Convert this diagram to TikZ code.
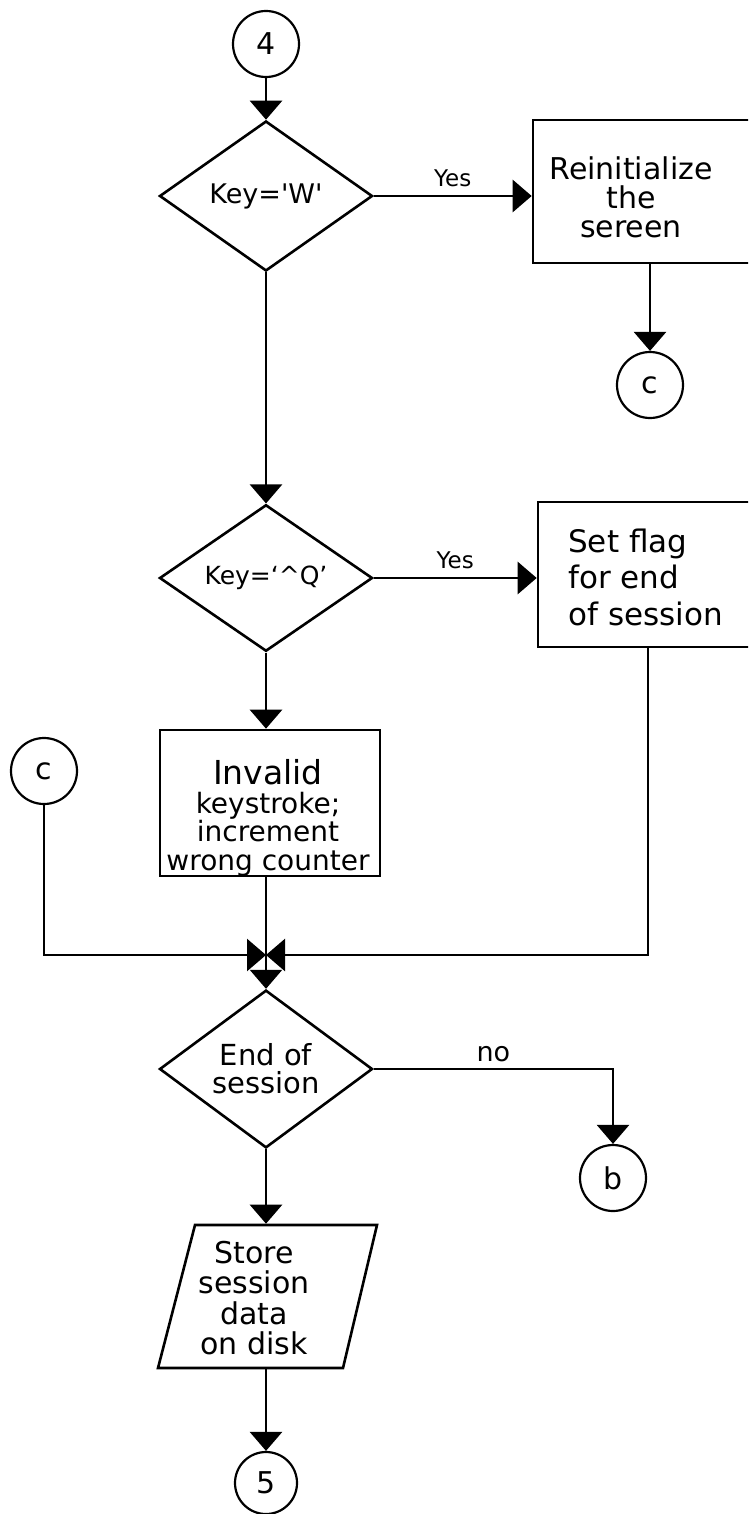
\documentclass[tikz,border=0pt]{standalone}
\usepackage{fontspec}
\setmainfont{DejaVu Sans}
\usetikzlibrary{shapes.geometric,arrows.meta}
\begin{document}
\begin{tikzpicture}[x=1pt,y=-1pt,
  line width=2.6pt,
  flow/.style={-{Triangle[width=32pt,length=19pt]}},
  conn/.style={draw,circle,minimum size=66pt,inner sep=0pt,line width=2.2pt,font=\fontsize{30}{30}\selectfont},
  dec/.style={draw,diamond,inner sep=0pt,minimum width=213pt,minimum height=150pt,align=center},
  procbox/.style={draw,rectangle,inner sep=0pt},
  txt/.style={align=center,inner sep=0pt},
  lbl/.style={inner sep=0pt,font=\fontsize{23}{24}\selectfont}
]
\useasboundingbox (0,0) rectangle (748,1514);
\clip (0,0) rectangle (748,1514);
% shapes
\node[conn] (c4) at (266,44) {4};
\node[dec,font=\fontsize{27}{30}\selectfont] (d1) at (266,196) {Key=\textquotesingle W\textquotesingle};
\node[procbox,minimum width=240pt,minimum height=143pt] (b1) at (653,191.5) {};
\node[txt,font=\fontsize{30}{29}\selectfont] (t1) at (631,197) {Reinitialize\\the\\sereen};
\node[conn] (cR) at (650,385) {c};
\node[dec,minimum height=143pt,font=\fontsize{25}{28}\selectfont] (d2) at (266,578) {Key=‘\textasciicircum Q’};
\node[procbox,minimum width=240pt,minimum height=145pt] (b2) at (658,574.5) {};
\node[txt,align=left,anchor=west,font=\fontsize{31}{36.5}\selectfont] (t2) at (567,577) {Set flag\\for end\\of session};
\node[procbox,minimum width=220pt,minimum height=146pt] (b3) at (270,803) {};
\node[txt,font=\fontsize{28}{28.5}\selectfont] (t3) at (268,818) {{\fontsize{33}{29}\selectfont Invalid}\\keystroke;\\increment\\wrong counter};
\node[conn] (cL) at (44,771) {c};
\coordinate (m) at (266,955);
\coordinate (j1) at (44,955);
\coordinate (j2) at (648,955);
\node[dec,minimum height=142pt,font=\fontsize{29}{28}\selectfont] (d3) at (266,1069) {End of\\session};
\node[conn] (cb) at (613,1178) {b};
\coordinate (j3) at (613,1069);
\node[inner sep=0pt,minimum width=182pt,minimum height=143pt] (st) at (266,1296.5) {};
\draw (195,1225) -- (377,1225) -- (343,1368) -- (158,1368) -- cycle;
\node[txt,font=\fontsize{30}{30.5}\selectfont] (t4) at (254,1298) {Store\\session\\data\\on disk};
\node[conn,minimum size=62pt] (c5) at (266,1483) {5};
% flow lines
\draw[flow] (c4) -- (d1.north);
\draw[flow] (d1.east) -- node[lbl,above=8pt] (y1) {Yes} (b1.west |- d1.east);
\draw[flow] (b1.south -| cR.north) -- (cR.north);
\draw[flow] (d1.south) -- (d2.north);
\draw[flow] (d2.east) -- node[lbl,above=8pt] (y2) {Yes} (b2.west |- d2.east);
\draw[flow] (d2.south) -- (d2.south |- b3.north);
\draw[flow] (b2.south -| j2) -- (j2) -- (m);
\draw[flow] (cL) -- (j1) -- (m);
\draw[flow] (d2.south |- b3.south) -- (d3.north);
\draw[flow] (d3.east) -- node[lbl,above=6pt,font=\fontsize{27}{28}\selectfont] (no) {no} (j3) -- (cb.north);
\draw[flow] (d3.south) -- (st.north);
\draw[flow] (st.south) -- (c5.north);
\end{tikzpicture}
\end{document}
